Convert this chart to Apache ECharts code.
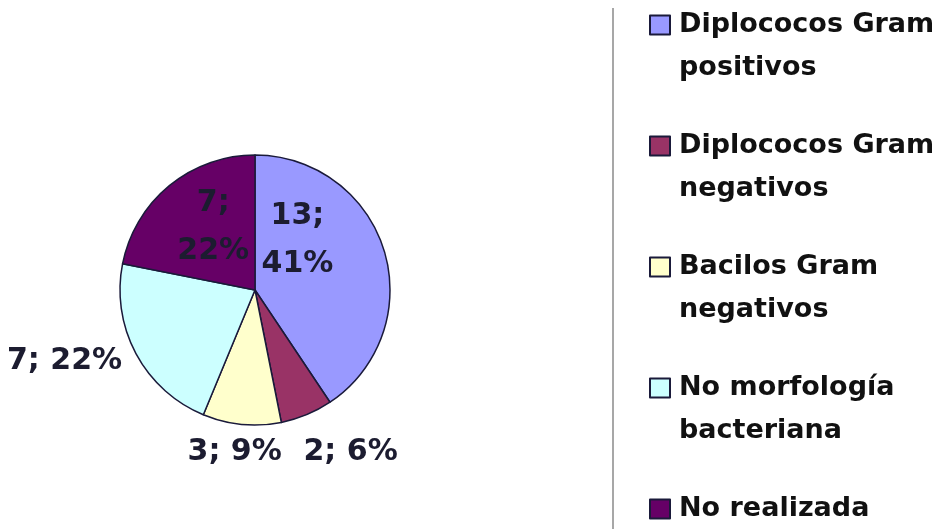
<!DOCTYPE html>
<html><head><meta charset="utf-8">
<script src="https://cdn.jsdelivr.net/npm/echarts@6/dist/echarts.min.js"></script>
<style>html,body{margin:0;padding:0;background:#fff}#c{width:945px;height:529px}</style>
</head><body><div id="c"></div>
<script>
// ---- data ----
const categories = ['Diplococos Gram\npositivos', 'Diplococos Gram\nnegativos', 'Bacilos Gram\nnegativos', 'No morfología\nbacteriana', 'No realizada'];
const counts = [13, 2, 3, 7, 7];
const colors = ['#9999FF', '#993366', '#FFFFCC', '#CCFFFF', '#660066'];
const labelPlacement = ['inside', 'outside', 'outside', 'outside', 'inside'];

// ---- styling offsets (label nudges, not data) ----
const labelShift = [[-25, -29], [-12, 28], [46, 18], [0, 3], [3, -8]];

const chart = echarts.init(document.getElementById('c'), null, {renderer: 'canvas'});
const FONT = 'DejaVu Sans';

const pieData = categories.map((name, i) => ({
  name: name,
  value: counts[i],
  itemStyle: {color: colors[i]},
  label: {position: labelPlacement[i]},
  labelLine: {show: false, length: 10, length2: 0}
}));

chart.setOption({
  backgroundColor: '#ffffff',
  animation: false,
  legend: {
    orient: 'vertical',
    left: 649,
    top: -39.5,
    height: 900,
    padding: 0,
    itemGap: -8,
    itemWidth: 20,
    itemHeight: 19,
    icon: 'rect',
    selectedMode: false,
    data: categories,
    // an empty line is added so the first text line sits beside the square
    formatter: function (name) {
      return name.indexOf('\n') >= 0 ? '\n' + name : '\n' + name + '\n';
    },
    textStyle: {
      fontFamily: FONT,
      fontWeight: 'bold',
      fontSize: 27,
      lineHeight: 43,
      padding: [0, 0, 0, 4],
      color: '#111111'
    }
  },
  graphic: [{
    type: 'line',
    shape: {x1: 613, y1: 8, x2: 613, y2: 529},
    style: {stroke: '#8a8a8a', lineWidth: 1.5}
  }],
  series: [{
    type: 'pie',
    center: [255, 290],
    radius: 135,
    startAngle: 90,
    clockwise: true,
    avoidLabelOverlap: false,
    itemStyle: {borderColor: '#1a1a3a', borderWidth: 1.5},
    label: {
      fontFamily: FONT,
      fontWeight: 'bold',
      fontSize: 30,
      lineHeight: 48,
      color: '#1c1c30',
      formatter: function (p) {
        const pct = Math.round(p.percent);
        return labelPlacement[p.dataIndex] === 'inside' ? p.value + ';\n' + pct + '%' : p.value + '; ' + pct + '%';
      }
    },
    labelLayout: function (p) {
      return {dx: labelShift[p.dataIndex][0], dy: labelShift[p.dataIndex][1]};
    },
    data: pieData
  }]
});
</script>
</body></html>
